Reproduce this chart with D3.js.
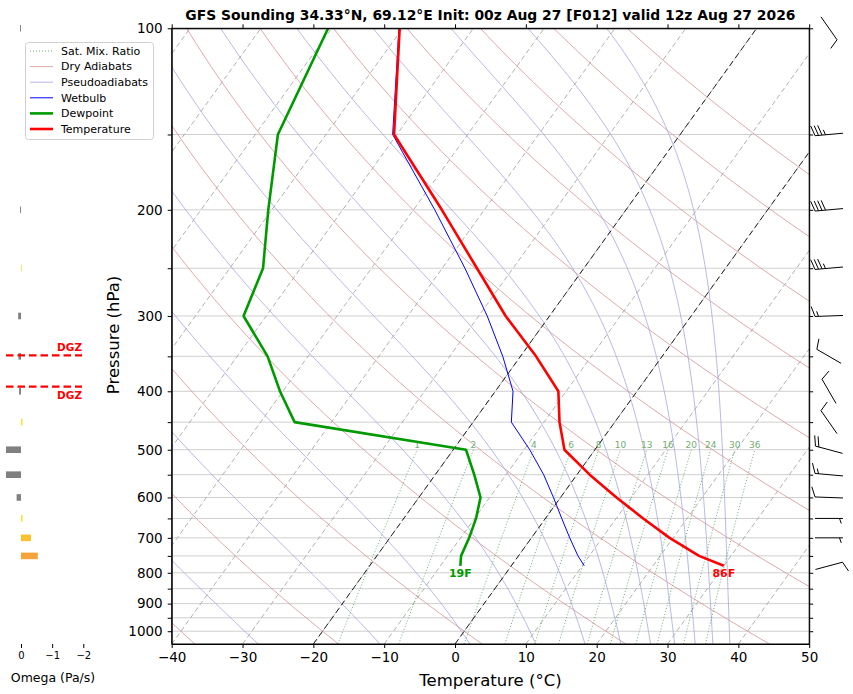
<!DOCTYPE html>
<html>
<head>
<meta charset="utf-8">
<script src="https://cdn.jsdelivr.net/npm/d3@7"></script>
<style>
  body { margin: 0; background: #fff; }
  svg { font-family: "DejaVu Sans", sans-serif; }
</style>
</head>
<body>
<svg id="chart" width="853" height="694"></svg>
<script>
// Sounding profile (hPa, °C)
const levels   = [779, 750, 700, 650, 600, 550, 500, 450, 400, 350, 300, 250, 200, 150, 100];
const temp     = [30.0, 25.5, 19.5, 13.8, 7.9, 1.8, -4.3, -7.8, -11.1, -17.8, -26.2, -35.1, -46.0, -60.4, -70.4];
const dewpoint = [-7.2, -8.1, -8.8, -9.8, -11.3, -14.5, -18.2, -45.2, -50.4, -55.7, -63.2, -65.3, -70.5, -76.8, -80.5];
const wetbulb  = [10.3, 8.4, 5.4, 2.3, -1.0, -4.7, -9.2, -14.6, -17.5, -22.5, -28.8, -36.8, -47.0, -60.6, -70.5];

// Wind barbs (kt, direction wind comes from)
const windLevels = [779, 700, 650, 600, 550, 500, 450, 400, 350, 300, 250, 200, 150, 100];
const windSpeed  = [10, 5, 5, 10, 15, 20, 10, 10, 10, 15, 35, 40, 35, 10];
const windDir    = [75, 90, 90, 272, 275, 285, 325, 330, 300, 268, 265, 265, 265, 145];

// Omega (Pa/s)
const omegaLevels = [100, 200, 250, 300, 350, 400, 450, 500, 550, 600, 650, 700, 750];
const omega       = [0.03, 0.03, -0.01, 0.09, 0.08, 0.06, -0.05, 0.48, 0.48, 0.14, -0.05, -0.32, -0.54];

// Background line families
const isotherms    = d3.range(-120, 51, 10);
const highlightIso = [0, -20];
const dryThetas    = [-40, -20, 0, 20, 40, 60, 80, 100, 120, 140, 160, 180];          // °C at 1000 hPa
const moistStarts  = [-27.8, -10.6, 2.1, 11.4, 18.35, 23.4, 27.6, 31.0, 33.9, 36.4, 38.8]; // °C at 1050 hPa
const mixRatios    = [1, 2, 4, 6, 8, 10, 13, 16, 20, 24, 30, 36];                       // g/kg
const gridLevels   = d3.range(100, 1001, 50);
const tempTicks    = d3.range(-40, 51, 10);
const omegaTicks   = [0, -1, -2];

const title = "GFS Sounding 34.33°N, 69.12°E Init: 00z Aug 27 [F012] valid 12z Aug 27 2026";

const M = { left: 171.7, right: 809.2, top: 28.3, bottom: 644 };
const SKEW = 0.72;

const svg = d3.select("#chart");
const x = d3.scaleLinear().domain([-40, 50]).range([M.left, M.right]);
const y = d3.scaleLog().domain([1050, 100]).range([M.bottom, M.top]);
const sx = (t, p) => x(t) + SKEW * (M.bottom - y(p));
const line = d3.line().x(d => sx(d[0], d[1])).y(d => y(d[1]));

function logGrid(p0, p1, n) {
  return d3.range(n + 1).map(i => p0 * Math.pow(p1 / p0, i / n));
}

// thermodynamics for the reference lines
const Rd = 287.04, Cp = 1005.7, Lv = 2.501e6, EPS = 0.622;
const es = tc => 6.112 * Math.exp(17.67 * tc / (tc + 243.5));
function moistRate(T, p) {
  const e = es(T - 273.15), rs = EPS * e / (p - e);
  return (Rd * T + Lv * rs) / (Cp + Lv * Lv * rs * EPS / (Rd * T * T));
}
function moistLine(t0) {
  const ps = logGrid(1050, 100, 300);
  let T = t0 + 273.15;
  const pts = [[t0, ps[0]]];
  for (let i = 1; i < ps.length; i++) {
    const h = Math.log(ps[i] / ps[i - 1]);
    const k1 = moistRate(T, ps[i - 1]);
    const k2 = moistRate(T + k1 * h / 2, ps[i - 1] * Math.exp(h / 2));
    T += k2 * h;
    pts.push([T - 273.15, ps[i]]);
  }
  return pts;
}
function mixTd(w, p) {
  const e = w * p / (622 + w), l = Math.log(e / 6.112);
  return 243.5 * l / (17.67 - l);
}

svg.append("defs").append("clipPath").attr("id", "plot-clip")
  .append("rect").attr("x", M.left).attr("y", M.top)
  .attr("width", M.right - M.left).attr("height", M.bottom - M.top);

const plot = svg.append("g").attr("clip-path", "url(#plot-clip)");

// horizontal grid
plot.append("g").selectAll("line").data(gridLevels).enter().append("line")
  .attr("x1", M.left).attr("x2", M.right)
  .attr("y1", d => y(d)).attr("y2", d => y(d))
  .attr("stroke", "#cfcfcf").attr("stroke-width", 1);

// skewed isotherms
plot.append("g").selectAll("path").data(isotherms).enter().append("path")
  .attr("d", t => line([[t, 1050], [t, 100]]))
  .attr("fill", "none").attr("stroke", "#a8a8a8").attr("stroke-width", 0.9)
  .attr("stroke-dasharray", "5,3");

// dry adiabats
plot.append("g").selectAll("path").data(dryThetas).enter().append("path")
  .attr("d", th => line(logGrid(1050, 100, 80).map(p => [(th + 273.15) * Math.pow(p / 1000, Rd / Cp) - 273.15, p])))
  .attr("fill", "none").attr("stroke", "#d49494").attr("stroke-width", 0.8);

// pseudoadiabats
plot.append("g").selectAll("path").data(moistStarts).enter().append("path")
  .attr("d", t0 => line(moistLine(t0)))
  .attr("fill", "none").attr("stroke", "#a4a4dc").attr("stroke-width", 0.8);

// saturation mixing ratio lines
plot.append("g").selectAll("path").data(mixRatios).enter().append("path")
  .attr("d", w => line(logGrid(1050, 500, 40).map(p => [mixTd(w, p), p])))
  .attr("fill", "none").attr("stroke", "#5f9f5f").attr("stroke-width", 0.9)
  .attr("stroke-dasharray", "1,2");

plot.append("g").selectAll("text").data(mixRatios).enter().append("text")
  .attr("x", w => sx(mixTd(w, 500), 500)).attr("y", y(500) - 1.5)
  .attr("text-anchor", "middle").attr("font-size", 9).attr("fill", "#74ab74")
  .text(w => w);

// 0 and -20 isotherms
plot.append("g").selectAll("path").data(highlightIso).enter().append("path")
  .attr("d", t => line([[t, 1050], [t, 100]]))
  .attr("fill", "none").attr("stroke", "#222").attr("stroke-width", 1)
  .attr("stroke-dasharray", "6,3.5");

// profiles
const prof = vals => levels.map((p, i) => [vals[i], p]);
plot.append("path").attr("d", line(prof(wetbulb)))
  .attr("fill", "none").attr("stroke", "#0000ff").attr("stroke-width", 1);
plot.append("path").attr("d", line(prof(dewpoint)))
  .attr("fill", "none").attr("stroke", "#009a00").attr("stroke-width", 2.6).attr("stroke-linejoin", "round");
plot.append("path").attr("d", line(prof(temp)))
  .attr("fill", "none").attr("stroke", "#ff0000").attr("stroke-width", 2.6).attr("stroke-linejoin", "round");

// surface labels in F
const toF = c => Math.round(c * 9 / 5 + 32) + "F";
svg.append("text").attr("x", sx(dewpoint[0], levels[0])).attr("y", y(levels[0]) + 11.5)
  .attr("text-anchor", "middle").attr("font-size", 11).attr("font-weight", "bold")
  .attr("fill", "#009a00").text(toF(dewpoint[0]));
svg.append("text").attr("x", sx(temp[0], levels[0])).attr("y", y(levels[0]) + 11.5)
  .attr("text-anchor", "middle").attr("font-size", 11).attr("font-weight", "bold")
  .attr("fill", "#ff0000").text(toF(temp[0]));

// axes
const fmtT = d3.format("d");
const ax = svg.append("g");
ax.append("g").attr("transform", `translate(0,${M.bottom})`)
  .call(d3.axisBottom(x).tickValues(tempTicks).tickFormat(fmtT).tickSize(4).tickSizeOuter(0).tickPadding(4));
ax.append("g").attr("transform", `translate(0,${M.top})`)
  .call(d3.axisTop(x).tickValues(tempTicks).tickFormat("").tickSize(4).tickSizeOuter(0));
ax.append("g").attr("transform", `translate(${M.left},0)`)
  .call(d3.axisLeft(y).tickValues(gridLevels).tickFormat(d => d % 100 === 0 ? d : "").tickSize(4).tickSizeOuter(0).tickPadding(5));
ax.append("g").attr("transform", `translate(${M.right},0)`)
  .call(d3.axisRight(y).tickValues(gridLevels).tickFormat("").tickSize(4).tickSizeOuter(0));
ax.selectAll("text").attr("font-family", "DejaVu Sans").attr("font-size", 13.5).attr("fill", "#000");
ax.selectAll(".domain, .tick line").attr("stroke", "#000");
svg.append("rect").attr("x", M.left).attr("y", M.top)
  .attr("width", M.right - M.left).attr("height", M.bottom - M.top)
  .attr("fill", "none").attr("stroke", "#000").attr("stroke-width", 1);

svg.append("text").attr("x", (M.left + M.right) / 2).attr("y", 686)
  .attr("text-anchor", "middle").attr("font-size", 16.5).text("Temperature (°C)");
svg.append("text").attr("transform", `translate(119,335) rotate(-90)`)
  .attr("text-anchor", "middle").attr("font-size", 16.5).text("Pressure (hPa)");
svg.append("text").attr("x", (M.left + M.right) / 2).attr("y", 20)
  .attr("text-anchor", "middle").attr("font-size", 13.9).attr("font-weight", "bold").text(title);

// wind barbs
function barb(g, cx, cy, spd, dir) {
  const L = 28, r = dir * Math.PI / 180;
  const u = [Math.sin(r), -Math.cos(r)], n = [-u[1], u[0]];
  const tip = [cx + u[0] * L / 2, cy + u[1] * L / 2];
  const tail = [cx - u[0] * L / 2, cy - u[1] * L / 2];
  const sp = 0.125 * L, h = 0.36 * L, w = 0.25 * L;
  let s = Math.round(spd / 5) * 5;
  const full = Math.floor(s / 10), half = s % 10 >= 5;
  let d = `M${tail[0]},${tail[1]}L${tip[0]},${tip[1]}`;
  let pos = 0;
  for (let i = 0; i < full; i++) {
    const P = [tip[0] - u[0] * pos, tip[1] - u[1] * pos];
    d += `M${P[0]},${P[1]}L${P[0] + n[0] * h + u[0] * w / 2},${P[1] + n[1] * h + u[1] * w / 2}`;
    pos += sp;
  }
  if (half) {
    if (full === 0) pos += sp;
    const P = [tip[0] - u[0] * pos, tip[1] - u[1] * pos];
    d += `M${P[0]},${P[1]}L${P[0] + n[0] * h / 2 + u[0] * w / 4},${P[1] + n[1] * h / 2 + u[1] * w / 4}`;
  }
  g.append("path").attr("d", d).attr("fill", "none").attr("stroke", "#000").attr("stroke-width", 1);
}
const barbs = svg.append("g");
windLevels.forEach((p, i) => barb(barbs, 829, y(p), windSpeed[i], windDir[i]));

// omega panel
const ox = d3.scaleLinear().domain([0.5, -2]).range([5.4, 83.3]);
const barColor = w => w > 0 ? "#808080" : (w > -0.1 ? "#f2e52c" : (w > -0.5 ? "#fbc02d" : "#f7a33c"));
svg.append("g").selectAll("rect").data(omegaLevels).enter().append("rect")
  .attr("x", (p, i) => Math.min(ox(0), ox(omega[i])))
  .attr("width", (p, i) => Math.max(0.8, Math.abs(ox(omega[i]) - ox(0))))
  .attr("y", p => y(p) - 3.3).attr("height", 6.6)
  .attr("fill", (p, i) => barColor(omega[i]));

const oax = svg.append("g").attr("transform", `translate(0,${M.bottom})`)
  .call(d3.axisBottom(ox).tickValues(omegaTicks).tickFormat(d3.format("d")).tickSize(4).tickPadding(4));
oax.select(".domain").remove();
oax.selectAll("text").attr("font-size", 10).attr("font-family", "DejaVu Sans").attr("fill", "#000");
oax.selectAll(".tick line").attr("stroke", "#000");
svg.append("text").attr("x", 53).attr("y", 682).attr("text-anchor", "middle")
  .attr("font-size", 12.5).text("Omega (Pa/s)");

// dendritic growth zone (-12 to -18 °C), interpolated in log-p from the profile
function pressureAt(tc) {
  for (let i = 0; i < levels.length - 1; i++) {
    const a = temp[i], b = temp[i + 1];
    if ((a - tc) * (b - tc) <= 0 && a !== b) {
      const f = (tc - a) / (b - a);
      return Math.exp(Math.log(levels[i]) + f * (Math.log(levels[i + 1]) - Math.log(levels[i])));
    }
  }
  return null;
}
const dgz = [pressureAt(-18), pressureAt(-12)];
const dg = svg.append("g");
dgz.forEach((p, i) => {
  dg.append("line").attr("x1", 6).attr("x2", 82).attr("y1", y(p)).attr("y2", y(p))
    .attr("stroke", "#ff0000").attr("stroke-width", 2.4).attr("stroke-dasharray", "7.5,4");
  dg.append("text").attr("x", 82).attr("y", i === 0 ? y(p) - 4 : y(p) + 12)
    .attr("text-anchor", "end").attr("font-size", 10.5).attr("font-weight", "bold")
    .attr("fill", "#ff0000").text("DGZ");
});

// legend
const legendItems = [
  { label: "Sat. Mix. Ratio", color: "#5f9f5f", width: 0.9, dash: "1,2" },
  { label: "Dry Adiabats",    color: "#d49494", width: 0.8, dash: null },
  { label: "Pseudoadiabats",  color: "#a4a4dc", width: 0.8, dash: null },
  { label: "Wetbulb",         color: "#0000ff", width: 1,   dash: null },
  { label: "Dewpoint",        color: "#009a00", width: 2.6, dash: null },
  { label: "Temperature",     color: "#ff0000", width: 2.6, dash: null }
];
const lg = svg.append("g");
lg.append("rect").attr("x", 25.5).attr("y", 42.5).attr("width", 128).attr("height", 97)
  .attr("rx", 3).attr("fill", "#fff").attr("fill-opacity", 0.85).attr("stroke", "#d0d0d0");
legendItems.forEach((it, i) => {
  const yy = 51 + i * 15.6;
  lg.append("line").attr("x1", 30).attr("x2", 53).attr("y1", yy).attr("y2", yy)
    .attr("stroke", it.color).attr("stroke-width", it.width)
    .attr("stroke-dasharray", it.dash);
  lg.append("text").attr("x", 61).attr("y", yy + 3.8).attr("font-size", 11).text(it.label);
});
</script>
</body>
</html>
